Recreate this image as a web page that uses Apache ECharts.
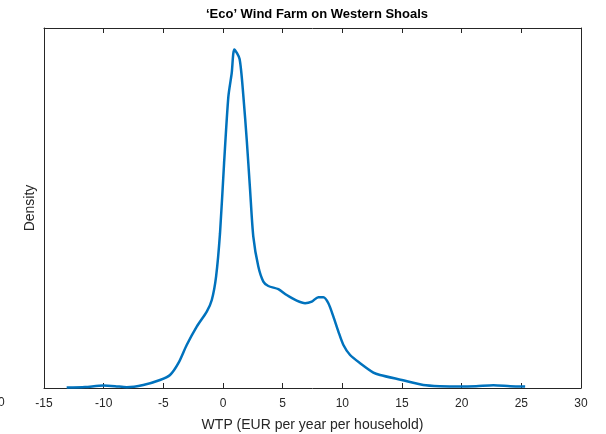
<!DOCTYPE html>
<html>
<head>
<meta charset="utf-8">
<script src="https://cdn.jsdelivr.net/npm/echarts@6/dist/echarts.min.js"></script>
<style>html,body{margin:0;padding:0;background:#fff}#c{width:606px;height:434px}</style>
</head>
<body>
<div id="c"></div>
<script>
const titleText = '\u2018Eco\u2019 Wind Farm on Western Shoals';
const xAxisName = 'WTP (EUR per year per household)';
const yAxisName = 'Density';
const xTicks = [-15, -10, -5, 0, 5, 10, 15, 20, 25, 30];
const wtpValues = [-13.1, -11.56, -10.03, -9.05, -8.07, -6.68, -5.28, -4.44, -3.74, -3.04, -2.2, -1.36, -0.94, -0.58, -0.25, 0.09, 0.45, 0.73, 0.95, 1.39, 1.71, 1.99, 2.27, 2.54, 2.96, 3.38, 3.8, 4.64, 5.34, 6.18, 6.88, 7.44, 7.99, 8.41, 8.83, 9.25, 9.67, 10.09, 10.65, 11.49, 12.6, 13.16, 14.98, 16.79, 18.19, 19.87, 21.21, 22.66, 24.06, 25.32];
const densityValues = [0.0002, 0.0005, 0.0012, 0.0009, 0.0004, 0.0015, 0.004, 0.0065, 0.0124, 0.0215, 0.0307, 0.0382, 0.044, 0.0557, 0.0774, 0.1124, 0.1457, 0.1574, 0.1693, 0.1645, 0.1457, 0.124, 0.099, 0.0757, 0.0607, 0.0532, 0.051, 0.0494, 0.0465, 0.0437, 0.0424, 0.0432, 0.0454, 0.0454, 0.0424, 0.0357, 0.0282, 0.0215, 0.0165, 0.0124, 0.0077, 0.0065, 0.004, 0.0015, 0.0009, 0.0007, 0.0009, 0.0014, 0.0009, 0.0007];

const axisColor = '#262626';
const font = 'Liberation Sans, Arial, Helvetica, sans-serif';
const chart = echarts.init(document.getElementById('c'), null, {renderer: 'canvas'});
chart.setOption({
  animation: false,
  backgroundColor: '#ffffff',
  title: {
    text: titleText, left: 312, top: 3, textAlign: 'center',
    textStyle: {fontFamily: font, fontSize: 13, fontWeight: 'bold', color: '#000'}
  },
  grid: {left: 44, right: 25, top: 28, bottom: 46, containLabel: false, outerBoundsMode: 'none'},
  xAxis: [{
    type: 'value', min: xTicks[0], max: xTicks[xTicks.length - 1], interval: 5,
    position: 'bottom',
    name: xAxisName, nameLocation: 'middle', nameGap: 30,
    nameTextStyle: {fontFamily: font, fontSize: 14, color: axisColor},
    axisLine: {show: true, onZero: false, lineStyle: {color: axisColor, width: 1}},
    axisTick: {show: true, inside: true, length: 5, lineStyle: {color: axisColor}},
    axisLabel: {show: true, fontFamily: font, fontSize: 12, color: axisColor, margin: 10},
    splitLine: {show: false}
  }, {
    type: 'value', min: xTicks[0], max: xTicks[xTicks.length - 1], interval: 5,
    position: 'top',
    axisLine: {show: true, onZero: false, lineStyle: {color: axisColor, width: 1}},
    axisTick: {show: true, inside: true, length: 5, lineStyle: {color: axisColor}},
    axisLabel: {show: false},
    splitLine: {show: false}
  }],
  yAxis: [{
    type: 'value', min: 0, max: 0.18, position: 'left',
    name: yAxisName, nameLocation: 'middle', nameGap: 7, nameRotate: 90,
    nameTextStyle: {fontFamily: font, fontSize: 14, color: axisColor},
    axisLine: {show: true, onZero: false, lineStyle: {color: axisColor, width: 1}},
    axisTick: {show: false}, axisLabel: {show: false}, splitLine: {show: false}
  }, {
    type: 'value', min: 0, max: 0.18, position: 'right',
    axisLine: {show: true, onZero: false, lineStyle: {color: axisColor, width: 1}},
    axisTick: {show: false}, axisLabel: {show: false}, splitLine: {show: false}
  }],
  graphic: [{
    type: 'text', left: -2, top: 397,
    style: {text: '0', fontFamily: font, fontSize: 12, fill: axisColor}
  }],
  series: [{
    type: 'line', xAxisIndex: 0, yAxisIndex: 0,
    data: wtpValues.map((x, i) => [x, densityValues[i]]),
    showSymbol: false, smooth: 0.25,
    lineStyle: {color: '#0072BD', width: 2.5},
    itemStyle: {color: '#0072BD'}
  }]
});
</script>
</body>
</html>
